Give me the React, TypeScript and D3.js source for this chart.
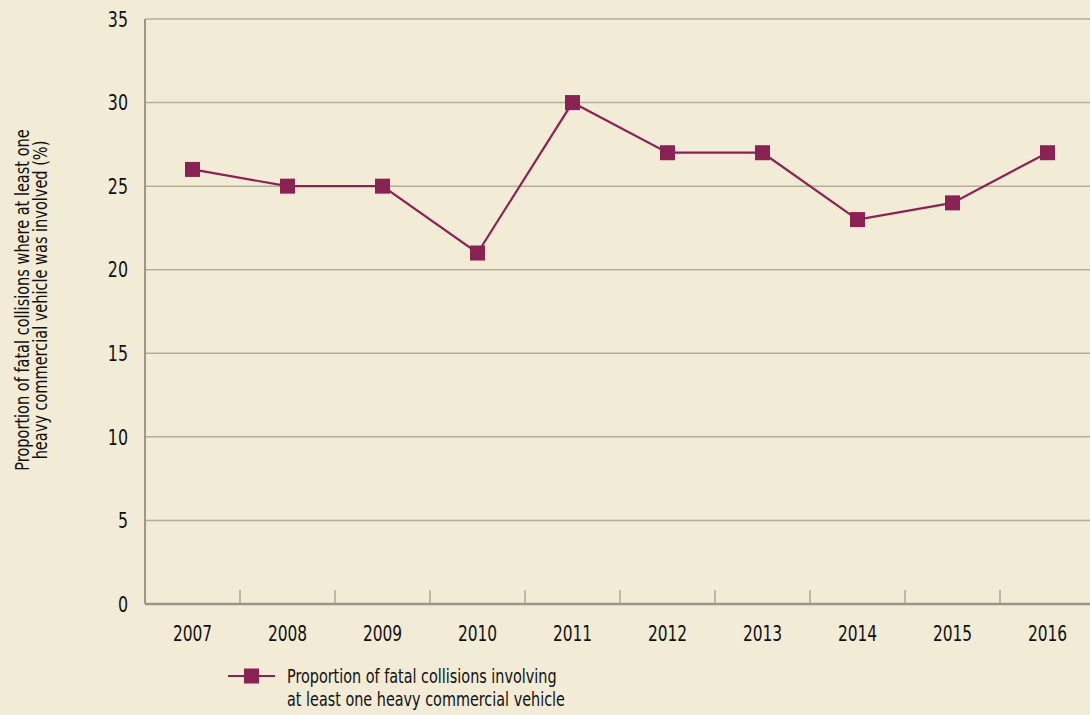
import * as d3 from 'd3';

const years = ['2007', '2008', '2009', '2010', '2011', '2012', '2013', '2014', '2015', '2016'];
const proportions = [26, 25, 25, 21, 30, 27, 27, 23, 24, 27];
const yTicks = [0, 5, 10, 15, 20, 25, 30, 35];
const yLabelLines = ['Proportion of fatal collisions where at least one', 'heavy commercial vehicle was involved (%)'];
const legendLines = ['Proportion of fatal collisions involving', 'at least one heavy commercial vehicle'];

const width = 1090;
const height = 715;
const margin = { top: 19, right: -5, bottom: 111, left: 145 };
const font = '"DejaVu Sans Condensed", "Liberation Sans Narrow", sans-serif';
const lineColor = '#8a2354';

// condensed text: the squeezed look of the original font
function Narrow({ x, y, sx, anchor, size, children }: any) {
  return (
    <g transform={`translate(${x}, ${y}) scale(${sx}, 1)`}>
      <text dy='.35em' textAnchor={anchor} fontFamily={font} fontSize={size} fill='#111'>{children}</text>
    </g>
  );
}

function App() {
  const innerWidth = width - margin.left - margin.right;
  const innerHeight = height - margin.top - margin.bottom;

  const xScale = d3.scaleBand().domain(years).range([0, innerWidth]);
  const yScale = d3.scaleLinear().domain([0, 35]).range([innerHeight, 0]);

  const line = d3.line<number>()
    .x((_, i) => xScale(years[i])! + xScale.bandwidth() / 2)
    .y(d => yScale(d));

  return (
    <svg width={width} height={height} style={{ position: 'fixed', left: 0, top: 0, background: '#f2ebd6' }}>
      <rect width={width} height={height} fill='#f2ebd6' />
      <g transform={`translate(${margin.left}, ${margin.top})`}>
        {yTicks.map(t => (
          <g key={t} transform={`translate(0, ${yScale(t)})`}>
            {t > 0 && <line x2={innerWidth} stroke='#b3ae9c' strokeWidth={1.5} />}
            <Narrow x={-17} y={0} sx={0.8} anchor='end' size={22}>{t}</Narrow>
          </g>
        ))}
        {years.slice(1).map(y => (
          <line key={y} x1={xScale(y)} x2={xScale(y)} y1={innerHeight - 14} y2={innerHeight} stroke='#9a978a' strokeWidth={1.2} />
        ))}
        <line x1={0} x2={0} y1={0} y2={innerHeight} stroke='#9a978a' strokeWidth={2} />
        <line x1={0} x2={innerWidth} y1={innerHeight} y2={innerHeight} stroke='#9a978a' strokeWidth={2.5} />
        {years.map(y => (
          <Narrow key={y} x={xScale(y)! + xScale.bandwidth() / 2} y={innerHeight + 29} sx={0.78} anchor='middle' size={22}>{y}</Narrow>
        ))}
        <path d={line(proportions)!} fill='none' stroke={lineColor} strokeWidth={2.2} />
        {proportions.map((v, i) => (
          <rect key={years[i]} x={xScale(years[i])! + xScale.bandwidth() / 2 - 7.5} y={yScale(v) - 7.5}
            width={15} height={15} fill={lineColor} />
        ))}
      </g>
      <g transform='translate(31, 300) rotate(-90)'>
        {yLabelLines.map((l, i) => (
          <Narrow key={i} x={0} y={(i - 0.5) * 18} sx={0.85} anchor='middle' size={19}>{l}</Narrow>
        ))}
      </g>
      <g transform='translate(228, 676)'>
        <line x1={0} x2={47} stroke={lineColor} strokeWidth={2.2} />
        <rect x={16} y={-7.5} width={15} height={15} fill={lineColor} />
        {legendLines.map((l, i) => (
          <Narrow key={i} x={59} y={i * 23} sx={0.8} anchor='start' size={20}>{l}</Narrow>
        ))}
      </g>
    </svg>
  );
}

export default App;
